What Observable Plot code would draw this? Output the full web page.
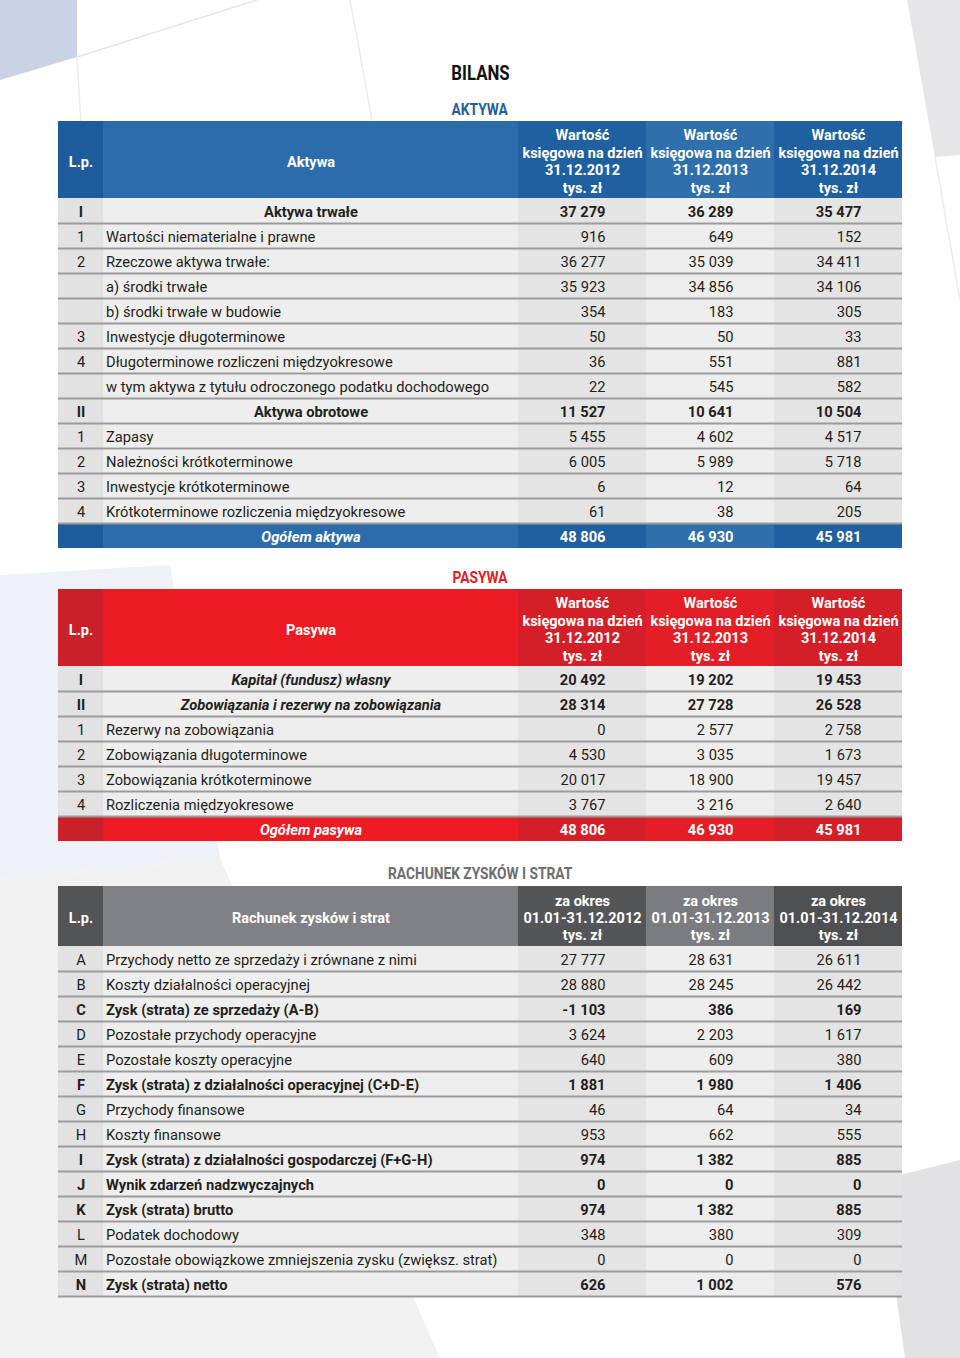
<!DOCTYPE html>
<html>
<head>
<meta charset="utf-8">
<script src="https://cdn.jsdelivr.net/npm/d3@7"></script>
<script src="https://cdn.jsdelivr.net/npm/@observablehq/plot@0.6"></script>
<style>
  html, body { margin: 0; padding: 0; background: #ffffff; }
  #page { position: relative; width: 960px; height: 1358px; overflow: hidden; font-family: Roboto, sans-serif; }
  #bg { position: absolute; left: 0; top: 0; }
  .title { position: absolute; left: 0; width: 960px; text-align: center; font-family: Roboto, sans-serif; font-weight: bold; }
  .title span { display: inline-block; transform: scaleX(0.86); transform-origin: center; }
  .tbl { position: absolute; left: 0; }
  .tbl svg { display: block; }
</style>
</head>
<body>
<div id="page">
  <svg id="bg" width="960" height="1358">
    <polygon points="0,0 77,0 77,57 0,80" fill="#c9d3e5"/>
    <line x1="77" y1="57" x2="257" y2="0" stroke="#e6e6e6" stroke-width="1.5"/>
    <line x1="77" y1="57" x2="95" y2="360" stroke="#ececec" stroke-width="1.5"/>
    <line x1="350" y1="0" x2="372" y2="120" stroke="#ececec" stroke-width="1.5"/>
    <polygon points="907,0 960,0 960,155 935,157" fill="#e6e6e8"/>
    <line x1="935" y1="157" x2="960" y2="300" stroke="#ececec" stroke-width="1.5"/>
    <polygon points="0,575 170,565 220,858 0,880" fill="#eef1f7"/>
    <polygon points="0,880 220,858 440,1358 0,1358" fill="#f1f1f2"/>
    <polygon points="880,1180 960,1160 960,1358 905,1358" fill="#e2e2e4"/>
  </svg>
  <div class="title" style="top:60px;font-size:21px;line-height:26px;color:#111;"><span style="transform:scaleX(0.8)">BILANS</span></div>
  <div class="title" style="top:99px;font-size:16px;line-height:22px;color:#1f5f9f;"><span>AKTYWA</span></div>
  <div class="title" style="top:567px;font-size:16px;line-height:22px;color:#e31e26;"><span>PASYWA</span></div>
  <div class="title" style="top:863px;font-size:16px;line-height:22px;color:#6d6e71;"><span>RACHUNEK ZYSKÓW I STRAT</span></div>
  <div class="tbl" id="t1" style="top:121px;"></div>
  <div class="tbl" id="t2" style="top:589px;"></div>
  <div class="tbl" id="t3" style="top:886px;"></div>
</div>
<script>
// ---------- DATA ----------
const aktywaHeader = ["L.p.", "Aktywa",
  "Wartość\nksięgowa na dzień\n31.12.2012\ntys. zł",
  "Wartość\nksięgowa na dzień\n31.12.2013\ntys. zł",
  "Wartość\nksięgowa na dzień\n31.12.2014\ntys. zł"];
const aktywaLp = ["I","1","2","","","3","4","","II","1","2","3","4",""];
const aktywaLabels = ["Aktywa trwałe","Wartości niematerialne i prawne","Rzeczowe aktywa trwałe:","a) środki trwałe","b) środki trwałe w budowie","Inwestycje długoterminowe","Długoterminowe rozliczeni międzyokresowe","w tym aktywa z tytułu odroczonego podatku dochodowego","Aktywa obrotowe","Zapasy","Należności krótkoterminowe","Inwestycje krótkoterminowe","Krótkoterminowe rozliczenia międzyokresowe","Ogółem aktywa"];
const aktywa2012 = [37279,916,36277,35923,354,50,36,22,11527,5455,6005,6,61,48806];
const aktywa2013 = [36289,649,35039,34856,183,50,551,545,10641,4602,5989,12,38,46930];
const aktywa2014 = [35477,152,34411,34106,305,33,881,582,10504,4517,5718,64,205,45981];
const aktywaStyle = ["b","n","n","n","n","n","n","n","b","n","n","n","n","t"];

const pasywaHeader = ["L.p.", "Pasywa",
  "Wartość\nksięgowa na dzień\n31.12.2012\ntys. zł",
  "Wartość\nksięgowa na dzień\n31.12.2013\ntys. zł",
  "Wartość\nksięgowa na dzień\n31.12.2014\ntys. zł"];
const pasywaLp = ["I","II","1","2","3","4",""];
const pasywaLabels = ["Kapitał (fundusz) własny","Zobowiązania i rezerwy na zobowiązania","Rezerwy na zobowiązania","Zobowiązania długoterminowe","Zobowiązania krótkoterminowe","Rozliczenia międzyokresowe","Ogółem pasywa"];
const pasywa2012 = [20492,28314,0,4530,20017,3767,48806];
const pasywa2013 = [19202,27728,2577,3035,18900,3216,46930];
const pasywa2014 = [19453,26528,2758,1673,19457,2640,45981];
const pasywaStyle = ["bi","bi","n","n","n","n","t"];

const rzisHeader = ["L.p.", "Rachunek zysków i strat",
  "za okres\n01.01-31.12.2012\ntys. zł",
  "za okres\n01.01-31.12.2013\ntys. zł",
  "za okres\n01.01-31.12.2014\ntys. zł"];
const rzisLp = ["A","B","C","D","E","F","G","H","I","J","K","L","M","N"];
const rzisLabels = ["Przychody netto ze sprzedaży i zrównane z nimi","Koszty działalności operacyjnej","Zysk (strata) ze sprzedaży (A-B)","Pozostałe przychody operacyjne","Pozostałe koszty operacyjne","Zysk (strata) z działalności operacyjnej (C+D-E)","Przychody finansowe","Koszty finansowe","Zysk (strata) z działalności gospodarczej (F+G-H)","Wynik zdarzeń nadzwyczajnych","Zysk (strata) brutto","Podatek dochodowy","Pozostałe obowiązkowe zmniejszenia zysku (zwiększ. strat)","Zysk (strata) netto"];
const rzis2012 = [27777,28880,-1103,3624,640,1881,46,953,974,0,974,348,0,626];
const rzis2013 = [28631,28245,386,2203,609,1980,64,662,1382,0,1382,380,0,1002];
const rzis2014 = [26611,26442,169,1617,380,1406,34,555,885,0,885,309,0,576];
const rzisStyle = ["n","n","bl","n","n","bl","n","n","bl","bl","bl","n","n","bl"];

// ---------- LAYOUT / STYLE ----------
const ROW = 25;
const edges = [0, 45, 460, 588, 716, 844];          // column edges (table units = px)
const valueRight = [547, 675, 803];                  // right anchor of value text
const bodyFill = ["#e2e2e2", "#eeeeee", "#e4e4e4", "#eeeeee", "#e4e4e4"];
const themes = {
  blue: ["#1c5c9c", "#2c6caa", "#1f60a0", "#2e6fac", "#1f60a0"],
  red:  ["#c92029", "#ed1c24", "#d41f29", "#e41e27", "#d41f29"],
  gray: ["#535456", "#808184", "#545557", "#7b7c7f", "#4f5052"]
};
const textColor = "#231f20";
const fmt = d3.formatLocale({decimal: ",", thousands: " ", grouping: [3], currency: ["", ""], minus: "-"}).format(",d");

function table(el, {header, lp, labels, v12, v13, v14, styles, theme, headerPx}) {
  const hu = headerPx / ROW;
  const n = lp.length;
  const height = Math.round(headerPx + n * ROW);
  const colors = themes[theme];
  const rows = lp.map((d, i) => ({i, lp: d, label: labels[i], vals: [v12[i], v13[i], v14[i]], style: styles[i],
    y1: hu + i, y2: hu + i + 1, yc: hu + i + 0.5}));
  const headerCells = header.map((t, c) => ({c, text: t, x1: edges[c], x2: edges[c + 1], xc: (edges[c] + edges[c + 1]) / 2}));
  const cells = rows.flatMap(r => headerCells.map(h => ({x1: h.x1, x2: h.x2, y1: r.y1, y2: r.y2,
    fill: r.style === "t" ? colors[h.c] : bodyFill[h.c]})));
  const values = rows.flatMap(r => r.vals.map((v, k) => ({x: valueRight[k], y: r.yc, text: fmt(v), style: r.style})));
  const isBold = s => s !== "n";
  const font = {fontSize: 14.7, dy: 1};
  const marks = [
    Plot.rect(headerCells, {x1: "x1", x2: "x2", y1: 0, y2: hu, fill: d => colors[d.c]}),
    Plot.rect(cells, {x1: "x1", x2: "x2", y1: "y1", y2: "y2", fill: "fill"}),
    Plot.ruleY(rows.filter(r => r.style !== "t"), {y: "y2", x1: 0, x2: 844, stroke: "#9b9b9b", strokeWidth: 2}),
    Plot.text(headerCells, {x: "xc", y: hu / 2, text: "text", fill: "white", fontWeight: "bold", fontSize: 14.5, lineHeight: 1.2, dy: 1}),
    // L.p.
    Plot.text(rows.filter(r => !isBold(r.style)), {x: 22.5, y: "yc", text: "lp", fill: textColor, ...font}),
    Plot.text(rows.filter(r => isBold(r.style) && r.style !== "t"), {x: 22.5, y: "yc", text: "lp", fill: textColor, fontWeight: "bold", ...font}),
    // labels
    Plot.text(rows.filter(r => r.style === "n"), {x: 47.5, y: "yc", text: "label", textAnchor: "start", fill: textColor, ...font}),
    Plot.text(rows.filter(r => r.style === "bl"), {x: 47.5, y: "yc", text: "label", textAnchor: "start", fill: textColor, fontWeight: "bold", ...font}),
    Plot.text(rows.filter(r => r.style === "b"), {x: 252.5, y: "yc", text: "label", fill: textColor, fontWeight: "bold", ...font}),
    Plot.text(rows.filter(r => r.style === "bi"), {x: 252.5, y: "yc", text: "label", fill: textColor, fontWeight: "bold", fontStyle: "italic", ...font}),
    Plot.text(rows.filter(r => r.style === "t"), {x: 252.5, y: "yc", text: "label", fill: "white", fontWeight: "bold", fontStyle: "italic", ...font}),
    // values
    Plot.text(values.filter(v => v.style === "n"), {x: "x", y: "y", text: "text", textAnchor: "end", fill: textColor, ...font}),
    Plot.text(values.filter(v => v.style !== "n" && v.style !== "t"), {x: "x", y: "y", text: "text", textAnchor: "end", fill: textColor, fontWeight: "bold", ...font}),
    Plot.text(values.filter(v => v.style === "t"), {x: "x", y: "y", text: "text", textAnchor: "end", fill: "white", fontWeight: "bold", ...font})
  ];
  const chart = Plot.plot({
    width: 960, height,
    marginLeft: 58, marginRight: 58, marginTop: 0, marginBottom: 0,
    x: {domain: [0, 844], axis: null},
    y: {domain: [0, hu + n], range: [0, height], axis: null},
    color: {type: "identity"},
    style: {fontFamily: "Roboto, sans-serif", background: "transparent", overflow: "visible"},
    marks
  });
  document.getElementById(el).appendChild(chart);
}

table("t1", {header: aktywaHeader, lp: aktywaLp, labels: aktywaLabels, v12: aktywa2012, v13: aktywa2013, v14: aktywa2014, styles: aktywaStyle, theme: "blue", headerPx: 77});
table("t2", {header: pasywaHeader, lp: pasywaLp, labels: pasywaLabels, v12: pasywa2012, v13: pasywa2013, v14: pasywa2014, styles: pasywaStyle, theme: "red", headerPx: 77});
table("t3", {header: rzisHeader, lp: rzisLp, labels: rzisLabels, v12: rzis2012, v13: rzis2013, v14: rzis2014, styles: rzisStyle, theme: "gray", headerPx: 60});
</script>
</body>
</html>
